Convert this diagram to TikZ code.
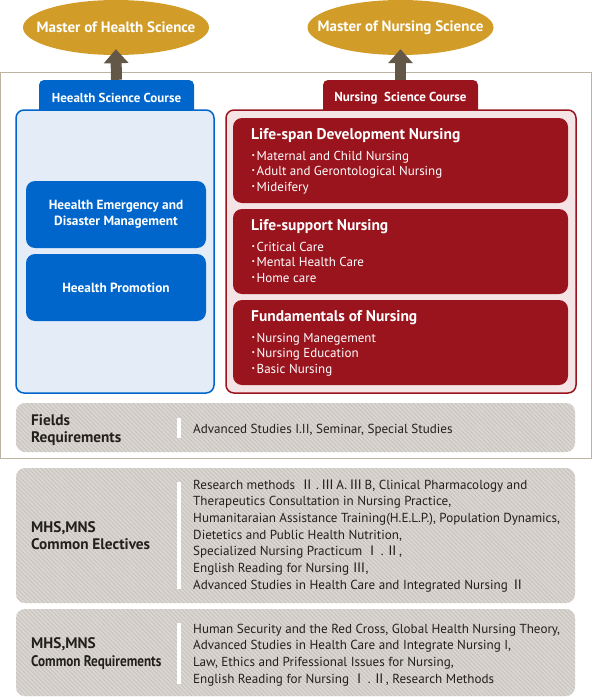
\documentclass[tikz,border=0pt]{standalone}
\usepackage{fontspec}
\setmainfont{PT Sans}
\newfontfamily\jp{Noto Sans CJK JP}
\usetikzlibrary{arrows.meta,shapes.geometric,patterns.meta}
\definecolor{gold}{HTML}{D19C27}
\definecolor{arrowc}{HTML}{635848}
\definecolor{framec}{HTML}{BCB3A3}
\definecolor{hblue}{HTML}{0066CC}
\definecolor{hbluel}{HTML}{E3ECF7}
\definecolor{nred}{HTML}{9A141E}
\definecolor{nredl}{HTML}{F4E4E6}
\definecolor{greyb}{HTML}{DAD6D1}
\definecolor{greyl}{HTML}{C8C3BC}
\definecolor{darkt}{HTML}{231F1C}
\newcommand\romjp[1]{{\jp #1}}
\newcommand\jpdot{{\jp ･}}
\begin{document}
\begin{tikzpicture}[x=1pt,y=-1pt,
  degree/.style={ellipse,fill=gold,minimum width=186pt,minimum height=55pt,inner sep=0pt,text=white,font=\bfseries\fontsize{15}{16}\selectfont},
  uparrow/.style={draw=arrowc,line width=11pt,-{Triangle[length=14pt,width=24pt]},shorten >=-6pt},
  tabbox/.style={rounded corners=5pt,minimum width=155pt,minimum height=36pt,inner sep=0pt,text=white,font=\bfseries\fontsize{13}{14}\selectfont},
  coursebox/.style={rounded corners=8pt,line width=1.5pt,minimum height=283pt,inner sep=0pt},
  hitem/.style={fill=hblue,rounded corners=9pt,minimum width=180pt,minimum height=67pt,inner sep=0pt,text=white,align=center,font=\bfseries\fontsize{13.3}{16}\selectfont},
  ritembox/.style={fill=nred,rounded corners=9pt,minimum width=335pt,minimum height=85pt,inner sep=0pt},
  rtitle/.style={anchor=base west,inner sep=0pt,text=white,font=\bfseries\fontsize{15.5}{16}\selectfont},
  rline/.style={anchor=base west,inner sep=0pt,text=white,font=\fontsize{13}{14}\selectfont},
  greybox/.style={fill=greyb,rounded corners=9pt,minimum width=559pt,inner sep=0pt,
    postaction={pattern={Lines[angle=-45,distance=3pt,line width=0.9pt]},pattern color=greyl}},
  glabel/.style={anchor=base west,inner sep=0pt,text=darkt,font=\bfseries\fontsize{15.3}{16}\selectfont},
  gtext/.style={anchor=base west,inner sep=0pt,text=darkt,font=\fontsize{13.1}{14}\selectfont},
  wbar/.style={fill=white}
]
\useasboundingbox (0,0) rectangle (592,699);
% degrees
\node[degree] (mhs) at (116,27.5) {\makebox[0pt]{Master of Health Science}};
\node[degree] (mns) at (400.5,27.5) {\makebox[0pt]{Master of Nursing Science}};
% outer frame
\draw[framec,line width=1pt] (0.5,72) rectangle (591.5,458.5);
% tabs
\node[tabbox,fill=hblue] (tabH) at (116.5,98) {Heealth Science Course};
\node[tabbox,fill=nred] (tabN) at (400.5,98) {Nursing\ \ Science Course};
% course boxes
\node[coursebox,draw=hblue,fill=hbluel,minimum width=198pt] (hsc) at (115,251.5) {};
\node[coursebox,draw=nred,fill=nredl,minimum width=350pt] (nsc) at (401,251.5) {};
% arrows
\draw[uparrow] (tabH.north) -- (mhs.south);
\draw[uparrow] (tabN.north) -- (mns.south);
% health fields
\node[hitem] (emg) at (116,214.5) {Heealth Emergency and\\Disaster Management};
\node[hitem] (prom) at (116,287.5) {Heealth Promotion};
% nursing fields
\foreach \ty/\ttl/\la/\lb/\lc [count=\k] in {
  118/{Life-span Development Nursing}/{Maternal and Child Nursing}/{Adult and Gerontological Nursing}/{Mideifery},
  209/{Life-support Nursing}/{Critical Care}/{Mental Health Care}/{Home care},
  300/{Fundamentals of Nursing}/{Nursing Manegement}/{Nursing Education}/{Basic Nursing}}{
  \node[ritembox] (rb\k) at (400.5,{\ty+42.5}) {};
  \node[rtitle] (rt\k) at (251,{\ty+21.3}) {\ttl};
  \node[rline] (ra\k) at (250,{\ty+42}) {\jpdot\la};
  \node[rline] (rm\k) at (250,{\ty+57.6}) {\jpdot\lb};
  \node[rline] (rz\k) at (250,{\ty+73.2}) {\jpdot\lc};
}
% fields requirements
\node[greybox,minimum height=49pt] (fld) at (295.5,427.5) {};
\fill[wbar] (176.5,418) rectangle (180.5,438);
\node[glabel] (fl1) at (31,425) {Fields};
\node[glabel] (fl2) at (31,442.5) {Requirements};
\node[gtext] (ft1) at (193,433.5) {Advanced Studies I.II, Seminar, Special Studies};
% common electives
\node[greybox,minimum height=135pt] (ele) at (295.5,535.5) {};
\fill[wbar] (176.5,482) rectangle (180.5,589);
\node[glabel] (el1) at (31,532.5) {MHS,MNS};
\node[glabel] (el2) at (31,549.5) {Common Electives};
\foreach \t [count=\i] in {
  {Research methods \,\romjp{Ⅱ}\,.\,\romjp{Ⅲ}\,A.\,\romjp{Ⅲ}\,B, Clinical Pharmacology and},
  {Therapeutics Consultation in Nursing Practice,},
  {Humanitaraian Assistance Training(H.E.L.P.), Population Dynamics,},
  {Dietetics and Public Health Nutrition,},
  {Specialized Nursing Practicum \romjp{Ⅰ}\,.\,\romjp{Ⅱ},},
  {English Reading for Nursing \romjp{Ⅲ},},
  {Advanced Studies in Health Care and Integrated Nursing \romjp{Ⅱ}}}{
  \node[gtext] (et\i) at (193,{489+16.67*(\i-1)}) {\t};
}
% common requirements
\node[greybox,minimum height=87pt] (req) at (295.5,652.5) {};
\fill[wbar] (176.5,623) rectangle (180.5,684);
\node[glabel] (rq1) at (31,648.3) {MHS,MNS};
\node[glabel] (rq2) at (31,666) {\scalebox{0.86}[1]{Common Requirements}};
\foreach \t [count=\i] in {
  {Human Security and the Red Cross, Global Health Nursing Theory,},
  {Advanced Studies in Health Care and Integrate Nursing I,},
  {Law, Ethics and Prifessional Issues for Nursing,},
  {English Reading for Nursing \romjp{Ⅰ}\,.\,\romjp{Ⅱ}, Research Methods}}{
  \node[gtext] (qt\i) at (193,{633.3+16.67*(\i-1)}) {\t};
}
\end{tikzpicture}
\end{document}
